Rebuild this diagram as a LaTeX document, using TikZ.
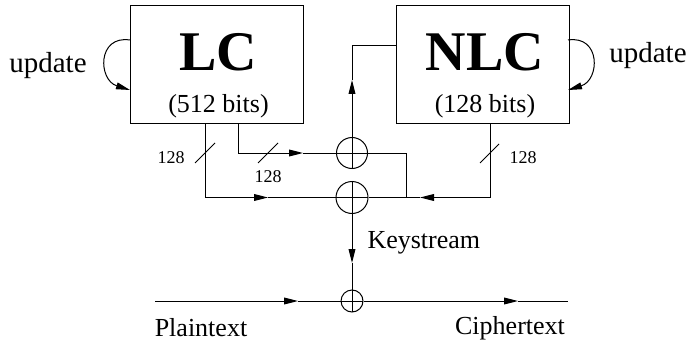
\documentclass[tikz,border=0pt]{standalone}
\usepackage{fontspec}
\setmainfont{Liberation Serif}
\usetikzlibrary{arrows.meta}
\begin{document}
\begin{tikzpicture}[x=0.5pt,y=0.5pt,line width=.5pt,
  reg/.style={draw,minimum width=86.5pt,minimum height=58.5pt,inner sep=0pt},
  xor/.style={circle,draw,inner sep=0pt,
              path picture={\draw (path picture bounding box.north) -- (path picture bounding box.south)
                                  (path picture bounding box.west) -- (path picture bounding box.east);}},
  arr/.style={-{Triangle[length=7pt,width=3.4pt]}},
  big/.style={font=\fontsize{28}{30}\selectfont\bfseries},
  txt/.style={font=\fontsize{13}{15}\selectfont},
  small/.style={font=\fontsize{9}{11}\selectfont}]
\useasboundingbox (0,0) rectangle (688,343);
% registers
\node[reg] (lc) at (216.5,278.5) {};
\node[reg] (nlc) at (482.5,278.5) {};
\node[big] (lctitle) at (218.5,291) {LC};
\node[txt] (lcbits) at (218.5,237) {(512 bits)};
\node[big] (nlctitle) at (485,291) {NLC};
\node[txt] (nlcbits) at (485,237) {(128 bits)};
% update loops
\node[font=\fontsize{14.5}{16}\selectfont] (updl) at (48,277) {update};
\node[font=\fontsize{14.5}{16}\selectfont] (updr) at (648,287) {update};
\draw[arr] (130,303) .. controls (97,308) and (98,263) .. (130,253);
\draw[arr] (568,303) .. controls (601,308) and (600,263) .. (568,253);
% xor gates
\node[xor,minimum size=15.5pt] (xa) at (352,190) {};
\node[xor,minimum size=16pt] (xb) at (352,145.5) {};
\node[xor,minimum size=11pt] (xc) at (352,42) {};
% wire ends and arrow positions
\coordinate (lo1) at (205,220);
\coordinate (lo2) at (238,220);
\coordinate (no) at (490,220);
\coordinate (j) at (406,145.5);
\coordinate (nin) at (396.5,297.5);
\coordinate (t1) at (268,145.5);
\coordinate (t2) at (303,190);
\coordinate (t3) at (420,145.5);
\coordinate (t4) at (352,263);
\coordinate (t5) at (352,80);
\coordinate (pin) at (155,42);
\coordinate (t6) at (298,42);
\coordinate (t7) at (518,42);
\coordinate (pout) at (568,42);
% wires
\draw[arr] (lo1) |- (t1);
\draw (t1) -- (xb.west);
\draw[arr] (lo2) |- (t2);
\draw (t2) -- (xa.west);
\draw[arr] (no) |- (t3);
\draw (t3) -- (xb.east);
\draw (xa.east) -| (j);
\draw[arr] (xa.north) -- (t4);
\draw (t4) |- (nin);
\draw[arr] (xb.south) -- (t5);
\draw (t5) -- (xc.north);
\draw[arr] (pin) -- (t6);
\draw (t6) -- (xc.west);
\draw[arr] (xc.east) -- (t7);
\draw (t7) -- (pout);
% bus widths
\draw (195,180) -- (215,200);
\draw (258,180) -- (278,200);
\draw (480,180) -- (499,199);
\node[small] (w1) at (171,185) {128};
\node[small] (w2) at (268,166) {128};
\node[small] (w3) at (523,185) {128};
% labels
\node[txt,anchor=west,inner sep=0pt] (ks) at (367,100) {Keystream};
\node[txt] (pt) at (201,15) {Plaintext};
\node[txt] (ct) at (510,15) {Ciphertext};
\end{tikzpicture}
\end{document}
